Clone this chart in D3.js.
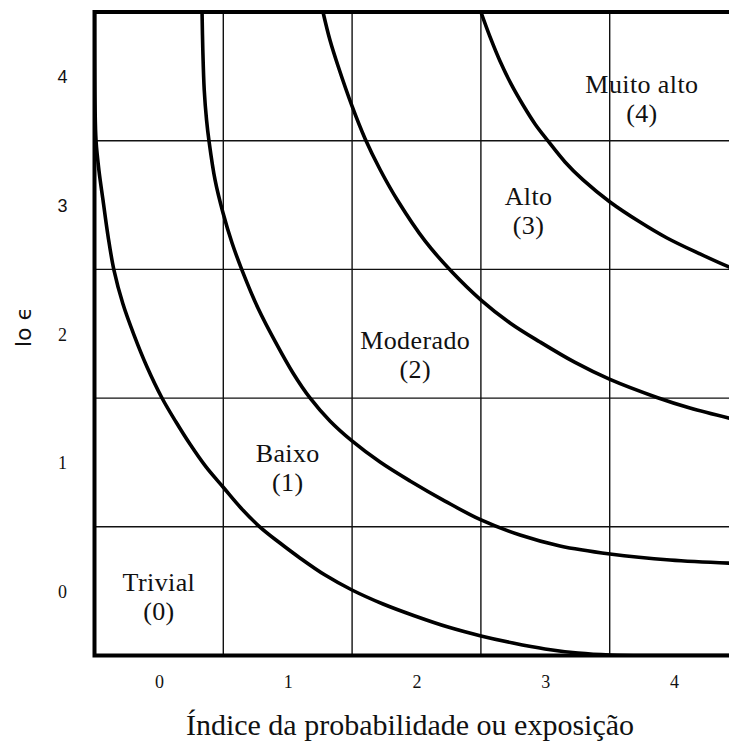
<!DOCTYPE html>
<html>
<head>
<meta charset="utf-8">
<script src="https://cdn.jsdelivr.net/npm/d3@7/dist/d3.min.js"></script>
<style>
  html, body { margin: 0; padding: 0; background: #fff; }
  svg { display: block; }
</style>
</head>
<body>
<script>
// ---- data ----
const xTicks = [0, 1, 2, 3, 4];
const yTicks = [0, 1, 2, 3, 4];
const gridBreaks = [0.5, 1.5, 2.5, 3.5];

const curveTrivial = [[-0.5,4.5],[-0.499,4.127],[-0.496,3.777],[-0.488,3.498],[-0.465,3.265],[-0.434,3.039],[-0.395,2.76],[-0.349,2.495],[-0.279,2.231],[-0.193,1.99],[-0.092,1.742],[0.024,1.501],[0.133,1.314],[0.241,1.143],[0.366,0.965],[0.498,0.809],[0.637,0.646],[0.785,0.498],[0.94,0.374],[1.095,0.258],[1.29,0.125],[1.499,0.009],[1.74,-0.1],[1.988,-0.193],[2.245,-0.279],[2.501,-0.348],[2.749,-0.403],[2.998,-0.449],[3.254,-0.481],[3.502,-0.496],[3.968,-0.5],[4.5,-0.5]];
const curveBaixo = [[0.335,4.5],[0.341,4.205],[0.352,3.894],[0.37,3.661],[0.389,3.498],[0.436,3.195],[0.498,2.938],[0.568,2.705],[0.645,2.495],[0.769,2.2],[0.917,1.913],[1.041,1.695],[1.173,1.501],[1.328,1.322],[1.499,1.167],[1.717,1.003],[1.95,0.856],[2.221,0.7],[2.501,0.553],[2.804,0.436],[3.114,0.351],[3.502,0.289],[3.968,0.242],[4.5,0.215]];
const curveModerado = [[1.274,4.5],[1.328,4.282],[1.391,4.08],[1.499,3.77],[1.6,3.517],[1.717,3.276],[1.856,3.031],[2.066,2.721],[2.276,2.48],[2.501,2.262],[2.726,2.084],[2.959,1.936],[3.231,1.777],[3.502,1.645],[3.867,1.505],[4.123,1.423],[4.5,1.327]];
const curveAlto = [[2.5,4.5],[2.571,4.306],[2.648,4.119],[2.734,3.941],[2.827,3.777],[2.92,3.63],[3.021,3.498],[3.153,3.335],[3.293,3.195],[3.502,3.024],[3.735,2.868],[3.945,2.744],[4.201,2.62],[4.426,2.519],[4.5,2.492]];
const curves = [curveTrivial, curveBaixo, curveModerado, curveAlto];

const riskNames = ["Trivial", "Baixo", "Moderado", "Alto", "Muito alto"];
const riskCodes = ["(0)", "(1)", "(2)", "(3)", "(4)"];
const riskX = [0, 1.0, 1.99, 2.87, 3.75];
const riskY = [0.0, 1.0, 1.88, 3.0, 3.87];

const xTitle = "Índice da probabilidade ou exposição";
const yTitle = "lo ϵ";

// ---- layout ----
const W = 729, H = 742;
const x = d3.scaleLinear().domain([-0.5, 4.5]).range([94.5, 738.5]);
const y = d3.scaleLinear().domain([-0.5, 4.5]).range([655.5, 12]);

const svg = d3.select("body").append("svg").attr("width", W).attr("height", H);

svg.append("defs").append("clipPath").attr("id", "plotclip")
  .append("rect").attr("x", x(-0.5)).attr("y", y(4.5))
  .attr("width", x(4.5) - x(-0.5)).attr("height", y(-0.5) - y(4.5));

// grid
const grid = svg.append("g").attr("stroke", "#111").attr("stroke-width", 1.4);
grid.selectAll("line.v").data(gridBreaks).join("line").attr("class", "v")
  .attr("x1", d => x(d)).attr("x2", d => x(d)).attr("y1", y(4.5)).attr("y2", y(-0.5));
grid.selectAll("line.h").data(gridBreaks).join("line").attr("class", "h")
  .attr("y1", d => y(d)).attr("y2", d => y(d)).attr("x1", x(-0.5)).attr("x2", x(4.5));

// curves
const line = d3.line().x(d => x(d[0])).y(d => y(d[1])).curve(d3.curveCatmullRom.alpha(0.5));
svg.append("g").attr("clip-path", "url(#plotclip)")
  .selectAll("path").data(curves).join("path")
  .attr("d", line).attr("fill", "none").attr("stroke", "#000").attr("stroke-width", 3.6);

// frame
svg.append("rect").attr("x", x(-0.5)).attr("y", y(4.5))
  .attr("width", x(4.5) - x(-0.5)).attr("height", y(-0.5) - y(4.5))
  .attr("fill", "none").attr("stroke", "#000").attr("stroke-width", 4);

// axes (labels only)
const xAxis = d3.axisBottom(x).tickValues(xTicks).tickSize(0).tickPadding(0).tickFormat(d3.format("d"));
const gx = svg.append("g").attr("transform", `translate(0,${y(-0.5)})`).call(xAxis);
gx.select(".domain").remove();
gx.selectAll("text").attr("dy", null).attr("y", 32)
  .attr("font-family", "'Liberation Serif', 'Times New Roman', serif").attr("font-size", 18).attr("fill", "#111");

const yAxis = d3.axisLeft(y).tickValues(yTicks).tickSize(0).tickPadding(0).tickFormat(d3.format("d"));
const gy = svg.append("g").attr("transform", `translate(${x(-0.5)},0)`).call(yAxis);
gy.select(".domain").remove();
gy.selectAll("text").attr("x", -32).attr("text-anchor", "middle").attr("dy", "0.35em")
  .attr("font-family", d => d >= 3 ? "'Liberation Sans', Arial, sans-serif" : "'Liberation Serif', 'Times New Roman', serif")
  .attr("font-size", 18).attr("fill", "#111");

// region labels
const lab = svg.append("g").attr("font-family", "'Liberation Serif', 'Times New Roman', serif")
  .attr("font-size", 26).attr("letter-spacing", 0.4).attr("fill", "#111").attr("text-anchor", "middle");
lab.selectAll("text.n").data(riskNames).join("text").attr("class", "n")
  .attr("x", (d, i) => x(riskX[i])).attr("y", (d, i) => y(riskY[i])).text(d => d);
lab.selectAll("text.c").data(riskCodes).join("text").attr("class", "c")
  .attr("x", (d, i) => x(riskX[i])).attr("y", (d, i) => y(riskY[i]) + 29).text(d => d);

// titles
svg.append("text").attr("x", 410).attr("y", 735).attr("text-anchor", "middle")
  .attr("font-family", "'Liberation Serif', 'Times New Roman', serif").attr("font-size", 30).attr("fill", "#111")
  .text(xTitle);
svg.append("text").attr("transform", "translate(31,327) rotate(-90)").attr("text-anchor", "middle")
  .attr("font-family", "'DejaVu Sans', 'Liberation Sans', sans-serif").attr("font-size", 22).attr("fill", "#111")
  .text(yTitle);
</script>
</body>
</html>
